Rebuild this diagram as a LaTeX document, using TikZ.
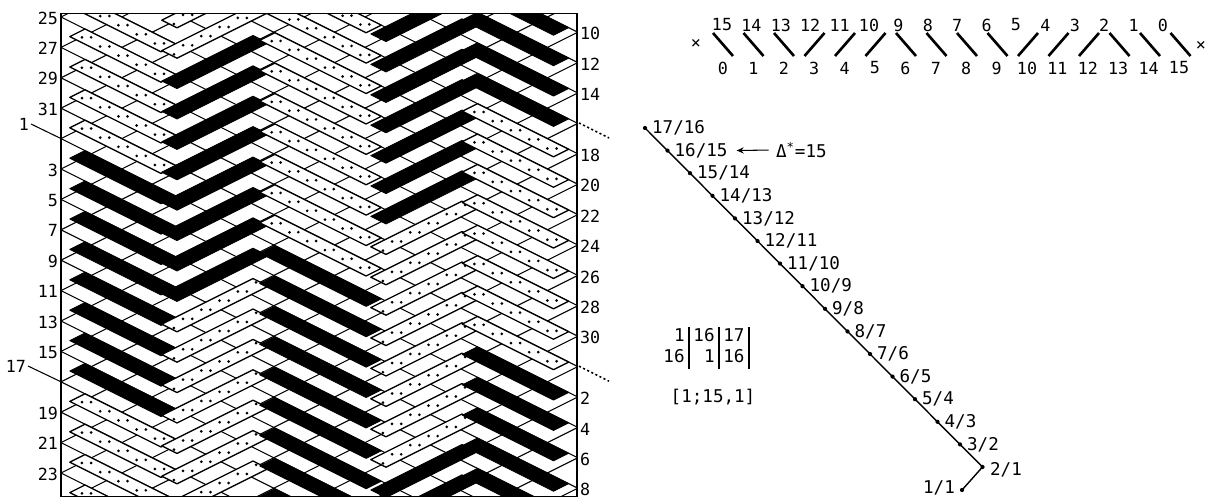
\documentclass[tikz,border=0pt]{standalone}
\usepackage{fontspec}
\setmainfont{DejaVu Sans Mono}
\usepackage{tikz}
\usetikzlibrary{arrows.meta}
\definecolor{wvInk}{HTML}{000000}
\definecolor{wvPaper}{HTML}{FFFFFF}
\tikzset{
  gridline/.style={draw=wvInk,line width=0.6pt},
  framebox/.style={draw=wvInk,line width=1.1pt},
  blackstrand/.style={fill=wvInk,draw=wvInk,line width=0.5pt,line join=round},
  dotstrand/.style={fill=wvPaper,draw=wvInk,line width=0.75pt,line join=round},
  speck/.style={fill=wvInk},
  edgelabel/.style={font=\fontsize{9.5}{11}\selectfont,inner sep=1pt},
  ratiolabel/.style={font=\fontsize{10}{12}\selectfont,anchor=west,inner sep=1pt},
  twill/.style={draw=wvInk,line width=1.5pt},
  chainline/.style={draw=wvInk,line width=0.8pt},
  pointer/.style={draw=wvInk,line width=0.6pt},
  dotpointer/.style={draw=wvInk,line width=0.9pt,dash pattern=on 1.2pt off 1.4pt},
  arrow/.style={-{Stealth[length=4pt,width=3.5pt]},line width=0.6pt}
}
% A strands run down to the right, B strands up to the right
\newcommand{\strandA}[4]{%
  \pgfmathsetmacro{\wvY}{#3}%
  \path[#4] (#1,{\wvY+15.2+0.5*(#1-61)}) -- ({#1+15.2},{\wvY+0.5*(#1+15.2-61)})
    -- (#2,{\wvY+0.5*(#2-61)}) -- ({#2-15.2},{\wvY+15.2+0.5*(#2-15.2-61)}) -- cycle;}
\newcommand{\strandB}[4]{%
  \pgfmathsetmacro{\wvT}{#3}%
  \path[#4] (#1,\wvT) -- ({#1+15.2},{\wvT+7.6})
    -- (#2,{\wvT+15.2-0.5*(#2-#1)}) -- ({#2-15.2},{\wvT-0.5*(#2-15.2-#1)}) -- cycle;}
\newcommand{\specksA}[4]{%
  \pgfmathsetmacro{\wvY}{#3}%
  \foreach \t in {1,...,#4}{%
    \pgfmathsetmacro{\wvx}{#1+7.6+(#2-#1-15.2)*(\t-0.5)/#4}%
    \pgfmathsetmacro{\wvy}{\wvY+7.6+0.5*(\wvx-61)+2.3*(2*mod(\t,2)-1)}%
    \fill[speck] (\wvx,\wvy) circle[radius=0.85pt];}}
\newcommand{\specksB}[4]{%
  \pgfmathsetmacro{\wvT}{#3}%
  \foreach \t in {1,...,#4}{%
    \pgfmathsetmacro{\wvx}{#1+7.6+(#2-#1-15.2)*(\t-0.5)/#4}%
    \pgfmathsetmacro{\wvy}{\wvT+7.6-0.5*(\wvx-#1)+2.3*(2*mod(\t,2)-1)}%
    \fill[speck] (\wvx,\wvy) circle[radius=0.85pt];}}

\begin{document}
\begin{tikzpicture}[x=0.02cm,y=-0.02cm]
  \useasboundingbox (0,0) rectangle (1217,499);

  % woven panel
  \begin{scope}
    \clip (61,13.5) rectangle (577,496.5);
    \foreach \k in {-9,...,16} \draw[gridline] (61,{17+30.4*\k}) -- (577,{275+30.4*\k});
    \foreach \k in {0,...,25} \draw[gridline] (61,{17+30.4*\k}) -- (577,{30.4*\k-241});
    \foreach \k in {-1,0,1,2,3,12,13,14,15}
      {\strandA{69.8}{176.2}{17+30.4*\k}{dotstrand}\specksA{69.8}{176.2}{17+30.4*\k}{10}}
    \foreach \k in {4,...,11} \strandA{69.8}{176.2}{17+30.4*\k}{blackstrand};
    \foreach \j in {-2,-1,8,9,10,11,12,13,14}
      {\strandB{161.8}{268.2}{81+30.4*\j}{dotstrand}\specksB{161.8}{268.2}{81+30.4*\j}{10}}
    \foreach \j in {0,...,7} \strandB{161.8}{268.2}{81+30.4*\j}{blackstrand};
    \foreach \k in {-5,...,3}
      {\strandA{259.7}{381.3}{17+30.4*\k}{dotstrand}\specksA{259.7}{381.3}{17+30.4*\k}{12}}
    \foreach \k in {4,...,12} \strandA{259.7}{381.3}{17+30.4*\k}{blackstrand};
    \foreach \j in {2,...,9}
      {\strandB{370.8}{477.2}{186+30.4*\j}{dotstrand}\specksB{370.8}{477.2}{186+30.4*\j}{10}}
    \foreach \j in {-6,...,1,10,11} \strandB{370.8}{477.2}{186+30.4*\j}{blackstrand};
    \foreach \k in {-4,...,3}
      {\strandA{462.3}{568.7}{17+30.4*\k}{dotstrand}\specksA{462.3}{568.7}{17+30.4*\k}{10}}
    \foreach \k in {-8,-7,-6,-5,4,5,6,7,8} \strandA{462.3}{568.7}{17+30.4*\k}{blackstrand};
  \end{scope}
  \draw[framebox] (61,13.5) rectangle (577,496.5);

  % edge numbers
  \foreach \k/\n in {0/25,1/27,2/29,3/31,5/3,6/5,7/7,8/9,9/11,10/13,11/15,13/19,14/21,15/23}
    \node[edgelabel,anchor=east] (left\n) at (60,{18+30.4*\k}) {\n};
  \foreach \k/\n in {0/10,1/12,2/14,4/18,5/20,6/22,7/24,8/26,9/28,10/30,12/2,13/4,14/6,15/8}
    \node[edgelabel,anchor=west] (right\n) at (578,{33.8+30.4*\k}) {\n};
  \coordinate (edge1) at (61,138.6);
  \coordinate (edge17) at (61,381.8);
  \node[edgelabel,anchor=east] (left1) at (31,124) {1};
  \node[edgelabel,anchor=east] (left17) at (28,366) {17};
  \draw[pointer] (left1.east) -- (edge1);
  \draw[pointer] (left17.east) -- (edge17);
  \coordinate (edge16) at (579,123);
  \coordinate (tail16) at (609,138);
  \coordinate (edge32) at (579,366.2);
  \coordinate (tail32) at (609,381.2);
  \draw[dotpointer] (edge16) -- (tail16);
  \draw[dotpointer] (edge32) -- (tail32);

  % twill line order
  \foreach \i in {0,...,15}{
    \pgfmathtruncatemacro{\upper}{15-\i}
    \node[edgelabel] (top\i) at ({722+29.4*\i},25) {\upper};
    \node[edgelabel] (bot\i) at ({723+30.4*\i},68) {\i};
  }
  \foreach \i/\d in {0/1,1/1,2/1,3/-1,4/-1,5/-1,6/1,7/1,8/1,9/1,10/-1,11/-1,12/-1,13/1,14/1,15/1}{
    \coordinate (sa\i) at ({713+30.5*\i},{44.5-11.5*\d});
    \coordinate (sb\i) at ({733+30.5*\i},{44.5+11.5*\d});
    \draw[twill] (sa\i) -- (sb\i);
  }
  \node[edgelabel] (crossL) at (696,44) {×};
  \node[edgelabel] (crossR) at (1201,46) {×};

  % ratio chain
  \foreach \i in {0,...,15} \coordinate (c\i) at ({645+22.5*\i},{128+22.6*\i});
  \coordinate (c16) at (962,490);
  \draw[chainline] (c0) -- (c15) -- (c16);
  \foreach \i in {0,...,16} \fill[speck] (c\i) circle[radius=1.2pt];
  \foreach \i in {0,...,14}{
    \pgfmathtruncatemacro{\num}{17-\i}
    \pgfmathtruncatemacro{\den}{16-\i}
    \node[ratiolabel] (r\i) at ({650+22.5*\i},{128+22.6*\i}) {\num/\den};
  }
  \node[ratiolabel] (r15) at (988,470) {2/1};
  \node[ratiolabel,anchor=east] (r16) at (957,488) {1/1};
  \node[ratiolabel] (dstar) at (774,150) {Δ\textsuperscript{*}=15};
  \draw[arrow,shorten <=3pt,shorten >=4pt] (dstar.west) -- (r1.east);

  % float table
  \node[ratiolabel,anchor=center] (ratios) at (704,348)
    {\setlength{\tabcolsep}{2.5pt}\setlength{\arrayrulewidth}{0.8pt}%
     \begin{tabular}{r|r|l|}1&16&17\\16&1&16\end{tabular}};
  \node[ratiolabel,anchor=center] (code) at (713,397) {[1;15,1]};
\end{tikzpicture}
\end{document}
